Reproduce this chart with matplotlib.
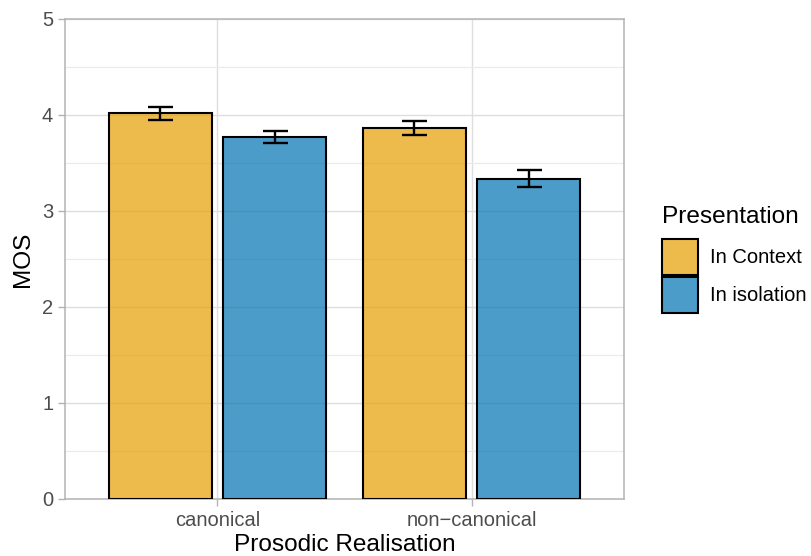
import matplotlib
matplotlib.use("Agg")
import matplotlib.pyplot as plt
import numpy as np
from matplotlib.patches import Patch

plt.rcParams['font.family'] = ['Liberation Sans', 'DejaVu Sans']

categories = ["canonical", "non\u2212canonical"]
groups = ["In Context", "In isolation"]
legend_title = "Presentation"
mos_context = [4.015, 3.86]
mos_isolation = [3.77, 3.335]
se_context = [0.068, 0.075]
se_isolation = [0.063, 0.085]
colors = ["#E69F00", "#0072B2"]

fig = plt.figure(figsize=(8.11, 5.56), dpi=100)
ax = fig.add_axes([65/811, 1-499/556, (624-65)/811, (499-18.7)/556])

x = np.arange(len(categories))
off = 0.225
w = 0.405
grid_c = "#DEDEDE"
ax.set_axisbelow(True)
ax.set_yticks(np.arange(0, 6, 1))
ax.set_yticks(np.arange(0.5, 5, 1), minor=True)
ax.grid(True, which='major', color=grid_c, linewidth=1.0)
ax.grid(True, which='minor', axis='y', color="#EBEBEB", linewidth=0.9)
ax.tick_params(which='minor', length=0)

for vals, errs, c, d in [(mos_context, se_context, colors[0], -off),
                         (mos_isolation, se_isolation, colors[1], off)]:
    ax.bar(x + d, vals, width=w, color=c, alpha=0.7, edgecolor='none', zorder=2)
    ax.bar(x + d, vals, width=w, facecolor='none', edgecolor='black', linewidth=1.5, zorder=3)
    ax.errorbar(x + d, vals, yerr=errs, fmt='none', ecolor='black', elinewidth=1.7,
                capsize=9.0, capthick=1.7, zorder=4)

ax.set_xlim(-0.6, 1.6)
ax.set_ylim(0, 5)
ax.set_xticks(x)
ax.set_xticklabels(categories)
for s in ax.spines.values():
    s.set_color("#B3B3B3")
    s.set_linewidth(1.1)
ax.tick_params(which='major', length=5, width=1.0, color="#B3B3B3",
               labelcolor="#4D4D4D", labelsize=14.5, pad=3.5)
ax.set_xlabel("Prosodic Realisation", fontsize=17.6, labelpad=3)
ax.set_ylabel("MOS", fontsize=17.6, labelpad=6)

handles = [Patch(facecolor=(0.929, 0.733, 0.298), edgecolor='black', linewidth=1.5),
           Patch(facecolor=(0.298, 0.612, 0.788), edgecolor='black', linewidth=1.5)]
fig.text(662/811, 1-223/556, legend_title, fontsize=17.6, ha='left', va='baseline')
leg = fig.legend(handles, groups, loc='upper left', bbox_to_anchor=(662/811, 1-239/556),
                 frameon=False, fontsize=14.5,
                 handlelength=1.8, handleheight=2.37, labelspacing=0.1, handletextpad=0.6,
                 borderaxespad=0, borderpad=0)

fig.savefig("out.png", dpi=100)
